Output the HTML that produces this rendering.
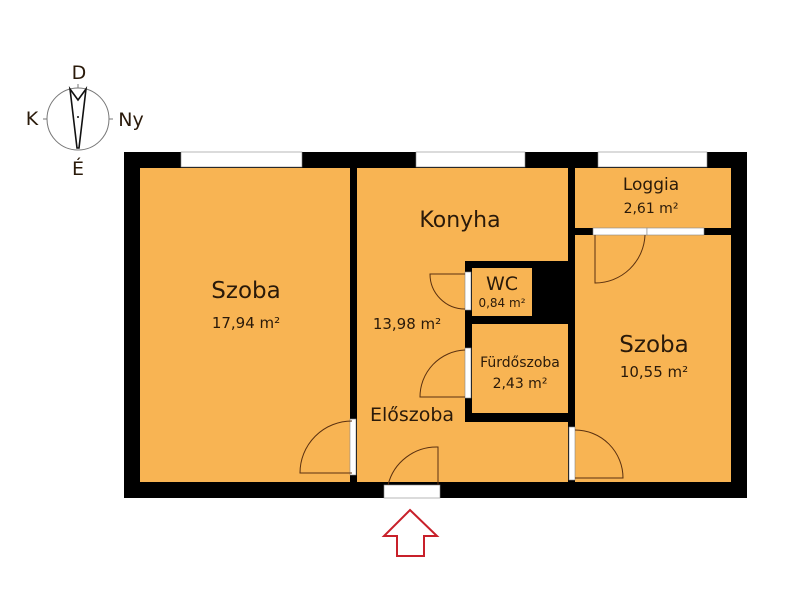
<!DOCTYPE html>
<html><head><meta charset="utf-8"><style>
html,body{margin:0;padding:0;background:#fff;}
svg{display:block;}
text{font-family:"DejaVu Sans","Liberation Sans",sans-serif;fill:#2a1a0a;}
</style></head><body>
<svg width="800" height="600" viewBox="0 0 800 600" xmlns="http://www.w3.org/2000/svg">
<rect width="800" height="600" fill="#fff"/>
<!-- compass -->
<g stroke="#777" fill="none" stroke-width="1">
<circle cx="78" cy="119" r="31"/>
<line x1="78" y1="84" x2="78" y2="88"/>
<line x1="43" y1="119" x2="47" y2="119"/>
<line x1="109" y1="119" x2="113" y2="119"/>
</g>
<path d="M70,89 L78,100 L86,89 L79,148 L77,148 Z" fill="none" stroke="#111" stroke-width="1.6"/>
<circle cx="78" cy="117" r="1" fill="#111"/>
<text x="79" y="79" font-size="19" text-anchor="middle">D</text>
<text x="32" y="125" font-size="19" text-anchor="middle">K</text>
<text x="131" y="126" font-size="19" text-anchor="middle">Ny</text>
<text x="78" y="175" font-size="19" text-anchor="middle">É</text>
<!-- outer walls -->
<rect x="124" y="152" width="623" height="346" fill="#000"/>
<g fill="#F8B453">
<rect x="140" y="168" width="210" height="314"/>
<rect x="357" y="168" width="211" height="314"/>
<rect x="575" y="168" width="156" height="60"/>
<rect x="575" y="235" width="156" height="247"/>
</g>
<rect x="568" y="168" width="7" height="314" fill="#000"/>
<rect x="465" y="261" width="103" height="161" fill="#000"/>
<rect x="472" y="268" width="60" height="48" fill="#F8B453"/>
<rect x="472" y="324" width="96" height="89" fill="#F8B453"/>
<!-- windows -->
<g fill="#fff" stroke="#888" stroke-width="0.6">
<rect x="181" y="152" width="121" height="15"/>
<rect x="416" y="152" width="109" height="15"/>
<rect x="598" y="152" width="109" height="15"/>
<rect x="384" y="485" width="56" height="13"/>
<rect x="593" y="228" width="54" height="7"/>
<rect x="647" y="228" width="57" height="7"/>
<rect x="350" y="419" width="6" height="56"/>
<rect x="465" y="272" width="6" height="38"/>
<rect x="465" y="348" width="6" height="50"/>
<rect x="569" y="427" width="6" height="53"/>
</g>
<!-- doors -->
<g fill="none" stroke="#5a3010" stroke-width="1">
<path d="M352,473 L300,473 A52,52 0 0 1 352,421"/>
<path d="M465,274 L430,274 A35,35 0 0 0 465,309"/>
<path d="M465,397 L420,397 A47,47 0 0 1 465,350"/>
<path d="M438,485 L438,447 A50,50 0 0 0 388,485"/>
<path d="M575,430 A48,48 0 0 1 623,478 L575,478"/>
<path d="M595,235 L595,283 A50,50 0 0 0 645,235"/>
</g>
<!-- labels -->
<text x="246" y="298" font-size="23" text-anchor="middle">Szoba</text>
<text x="246" y="328" font-size="15" text-anchor="middle">17,94 m²</text>
<text x="460" y="227" font-size="22" text-anchor="middle">Konyha</text>
<text x="407" y="329" font-size="15" text-anchor="middle">13,98 m²</text>
<text x="502" y="290" font-size="19" text-anchor="middle">WC</text>
<text x="502" y="307" font-size="12" text-anchor="middle">0,84 m²</text>
<text x="520" y="367" font-size="14" text-anchor="middle">Fürdőszoba</text>
<text x="520" y="388" font-size="14" text-anchor="middle">2,43 m²</text>
<text x="412" y="421" font-size="19" text-anchor="middle">Előszoba</text>
<text x="651" y="190" font-size="17" text-anchor="middle">Loggia</text>
<text x="651" y="213" font-size="14" text-anchor="middle">2,61 m²</text>
<text x="654" y="352" font-size="23" text-anchor="middle">Szoba</text>
<text x="654" y="377" font-size="15" text-anchor="middle">10,55 m²</text>
<path d="M410,510 L437,536 L424,536 L424,556 L397,556 L397,536 L384,536 Z" fill="none" stroke="#c8202a" stroke-width="2"/>
</svg>
</body></html>
